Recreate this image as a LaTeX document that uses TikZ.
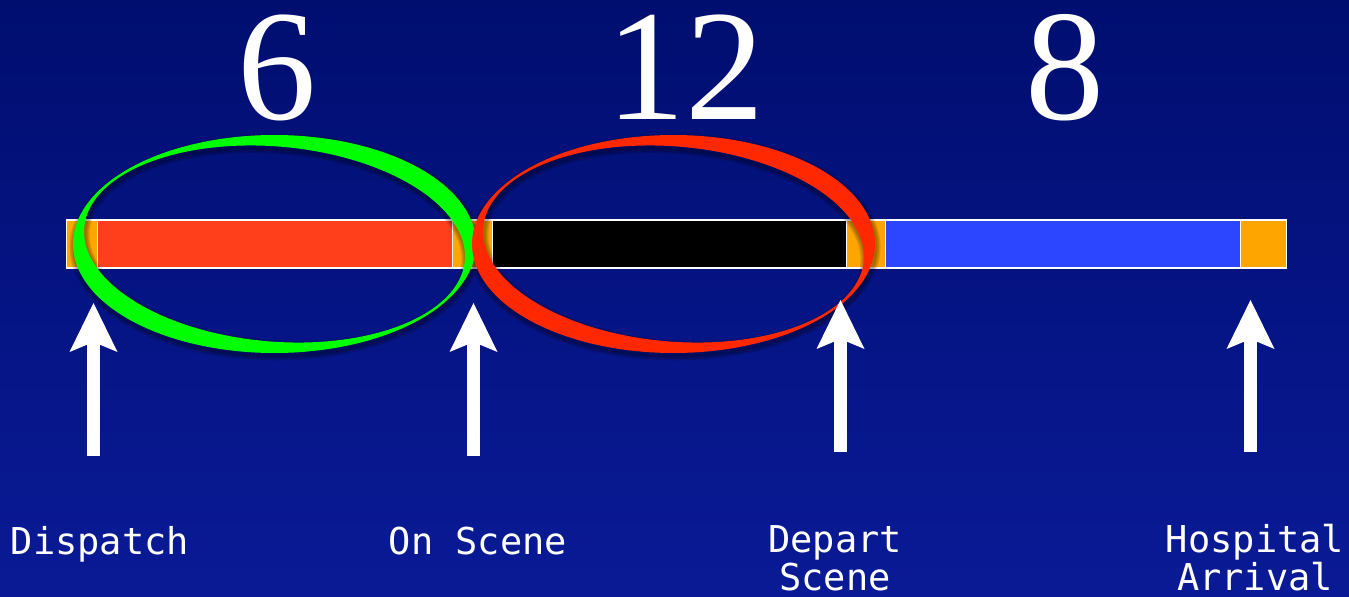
\documentclass[tikz,border=0pt]{standalone}
\usepackage{fontspec}
\newfontfamily\numfont{Liberation Serif}
\newfontfamily\labfont{DejaVu Sans Mono}
\usetikzlibrary{arrows.meta}
\definecolor{bgtop}{RGB}{0,14,112}
\definecolor{bgbot}{RGB}{10,26,150}
\definecolor{barorange}{RGB}{255,165,0}
\definecolor{barred}{RGB}{255,62,28}
\definecolor{barblue}{RGB}{44,70,255}
\definecolor{ringgreen}{RGB}{0,255,0}
\definecolor{ringred}{RGB}{255,40,0}
\newcommand{\ringpath}[2]{%
 plot[domain=0:357,samples=120,smooth cycle,variable=\t] ({#1+201.5*cos(\t)},{#2+109*sin(\t)})
 plot[domain=0:357,samples=120,smooth cycle,variable=\t] ({#1+191*cos(\t)*cos(5)-97.5*sin(\t)*sin(5)},{#2+191*cos(\t)*sin(5)+97.5*sin(\t)*cos(5)})}
\tikzset{
 barseg/.style={draw=white, line width=1.2bp, inner sep=0pt, minimum height=48bp, anchor=west},
 ringshadow/.style={black, opacity=0.13},
 bigarrow/.style={white, line width=13bp, -{Stealth[length=49bp,width=48bp,inset=10bp,line width=0pt]}},
 num/.style={white, font=\numfont\fontsize{158bp}{160bp}\selectfont, anchor=base, inner sep=0pt, text height=106bp, text depth=0bp},
 lab/.style={white, font=\labfont\fontsize{37bp}{39bp}\selectfont, anchor=base, inner sep=0pt}
}
\begin{document}
\begin{tikzpicture}[x=1bp,y=-1bp]
\useasboundingbox (0,0) rectangle (1349,597);
\shade[top color=bgtop, bottom color=bgbot] (0,0) rectangle (1349,597);
% bar
\node[barseg, fill=barorange, minimum width=31bp]  (o1) at (66,244) {};
\node[barseg, fill=barred,    minimum width=355bp] (rd) at (97,244) {};
\node[barseg, fill=barorange, minimum width=40bp]  (o2) at (452,244) {};
\node[barseg, fill=black,     minimum width=354bp] (bk) at (492,244) {};
\node[barseg, fill=barorange, minimum width=39bp]  (o3) at (846,244) {};
\node[barseg, fill=barblue,   minimum width=355bp] (bl) at (885,244) {};
\node[barseg, fill=barorange, minimum width=46bp]  (o4) at (1240,244) {};
% ring shadows
\foreach \w in {9,6,3}{
 \draw[ringshadow, line width=\w bp, shift={(1,3)}] \ringpath{274.5}{244};
 \draw[ringshadow, line width=\w bp, shift={(1,3)}] \ringpath{673.5}{244};
}
% rings
\fill[ringgreen, even odd rule] \ringpath{274.5}{244};
\fill[ringred, even odd rule] \ringpath{673.5}{244};
% numbers
\node[num] (n6)  at (277,120)   {6};
\node[num] (n12) at (685.5,120) {12};
\node[num] (n8)  at (1065,120)  {8};
% arrows
\coordinate (b1) at (93.5,456);  \coordinate (t1) at (93.5,303);
\coordinate (b2) at (473.5,456); \coordinate (t2) at (473.5,303);
\coordinate (b3) at (840.5,452); \coordinate (t3) at (840.5,300);
\coordinate (b4) at (1250.5,452);\coordinate (t4) at (1250.5,300);
\draw[bigarrow] (b1) -- (t1);
\draw[bigarrow] (b2) -- (t2);
\draw[bigarrow] (b3) -- (t3);
\draw[bigarrow] (b4) -- (t4);
% labels
\node[lab] (dispatch)    at (100,554)  {Dispatch};
\node[lab] (onscene)     at (478,554)  {On Scene};
\node[lab] (depart)      at (835,552)  {Depart};
\node[lab] (departscene) at (835,590)  {Scene};
\node[lab] (hospital)    at (1255,552) {Hospital};
\node[lab] (arrival)     at (1255,590) {Arrival};
\end{tikzpicture}
\end{document}
